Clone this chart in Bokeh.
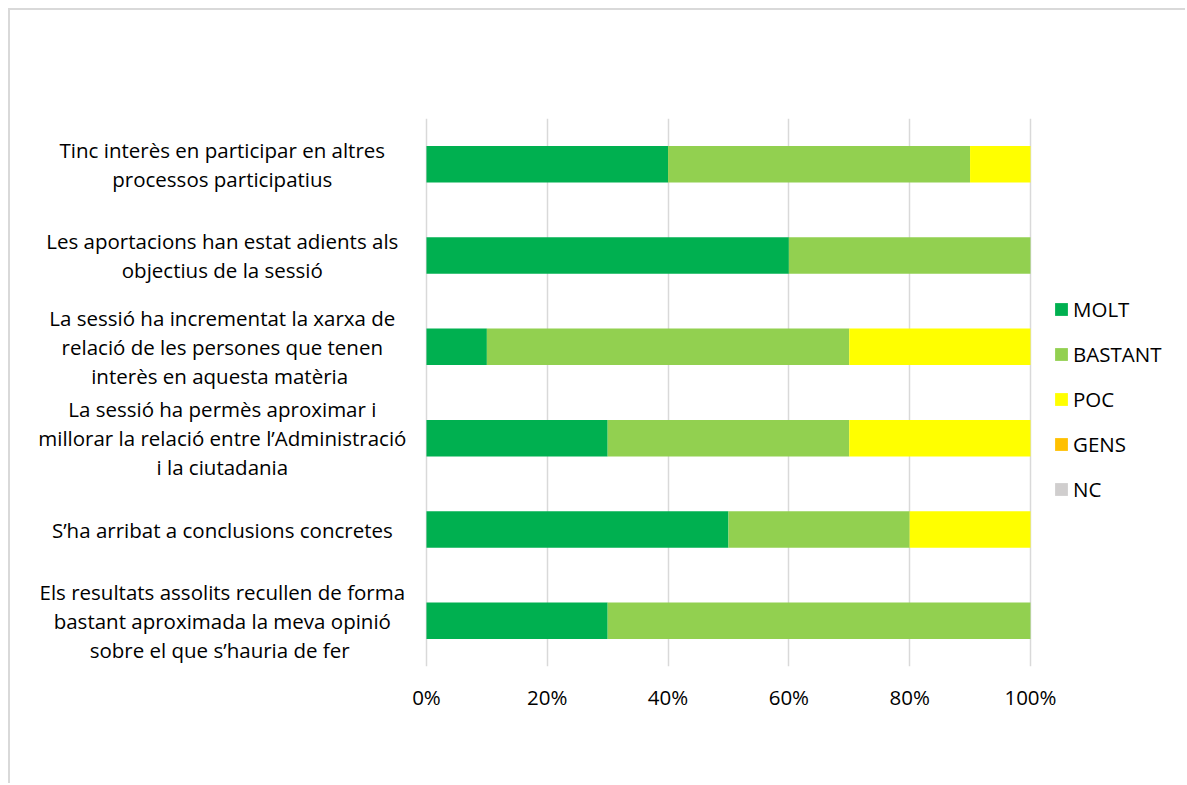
from bokeh.plotting import figure
from bokeh.models import ColumnDataSource, FixedTicker, PrintfTickFormatter, Legend
from bokeh.core.properties import value
from bokeh.embed import file_html
from bokeh.resources import INLINE

categories = [
    "Els resultats assolits recullen de forma\nbastant aproximada la meva opinió\nsobre  el que s\u2019hauria de fer",
    "S\u2019ha arribat a conclusions concretes",
    "La sessió ha permès aproximar i\nmillorar la relació entre l\u2019Administració\ni la ciutadania",
    "La sessió ha incrementat la xarxa de\nrelació de les persones que tenen\ninterès  en aquesta matèria",
    "Les aportacions han estat adients als\nobjectius de la sessió",
    "Tinc interès en participar en altres\nprocessos participatius",
]
series = ["MOLT", "BASTANT", "POC", "GENS", "NC"]
molt = [30, 50, 30, 10, 60, 40]
bastant = [70, 30, 40, 60, 40, 50]
poc = [0, 20, 30, 30, 0, 10]
gens = [0, 0, 0, 0, 0, 0]
nc = [0, 0, 0, 0, 0, 0]
colors = ["#00B050", "#92D050", "#FFFF00", "#FFC000", "#D0CECE"]
ticks = [0, 20, 40, 60, 80, 100]

FONT = "Open Sans"
FS = "20.5px"

ypos = [i + 0.5 for i in range(len(categories))]
source = ColumnDataSource(dict(y=ypos, label=categories, MOLT=molt, BASTANT=bastant,
                               POC=poc, GENS=gens, NC=nc))

p = figure(width=1177, height=775, output_backend="svg", toolbar_location=None,
           x_range=(-68.87, 126.0), y_range=(0, 6),
           min_border_left=0, min_border_right=0, min_border_top=108, min_border_bottom=119)
p.styles = {"border-top": "2px solid #D9D9D9", "border-left": "2px solid #D9D9D9",
            "margin-top": "8px", "margin-left": "8px"}
p.outline_line_color = None
p.background_fill_color = "white"
p.border_fill_color = "white"

renderers = p.hbar_stack(series, y="y", height=0.4, color=colors, line_color=None,
                         source=source)

p.text(x=-33.8, y="y", text="label", source=source, text_align="center",
       text_baseline="middle", text_font=value(FONT), text_font_size=FS,
       text_color="#000000", text_line_height=1.04)

p.yaxis.visible = False
p.ygrid.visible = False
p.xgrid.ticker = FixedTicker(ticks=ticks)
p.xgrid.grid_line_color = "#D9D9D9"
p.xgrid.grid_line_width = 1.5
ax = p.xaxis[0]
ax.ticker = FixedTicker(ticks=ticks)
ax.formatter = PrintfTickFormatter(format="%d%%")
ax.axis_line_color = None
ax.major_tick_line_color = None
ax.minor_tick_line_color = None
ax.major_tick_out = 0
ax.major_tick_in = 0
ax.major_label_standoff = 16
ax.major_label_text_font = FONT
ax.major_label_text_font_size = FS
ax.major_label_text_color = "#000000"

legend = Legend(items=[(s, [r]) for s, r in zip(series, renderers)],
                location=(1043, 163), orientation="vertical")
legend.border_line_color = None
legend.background_fill_alpha = 0
legend.glyph_width = 16
legend.glyph_height = 16
legend.label_height = 20
legend.spacing = 17
legend.label_standoff = 4
legend.padding = 0
legend.margin = 0
legend.label_text_font = FONT
legend.label_text_font_size = FS
legend.label_text_color = "#000000"
p.add_layout(legend)

open("out.html", "w").write(file_html(p, INLINE))
